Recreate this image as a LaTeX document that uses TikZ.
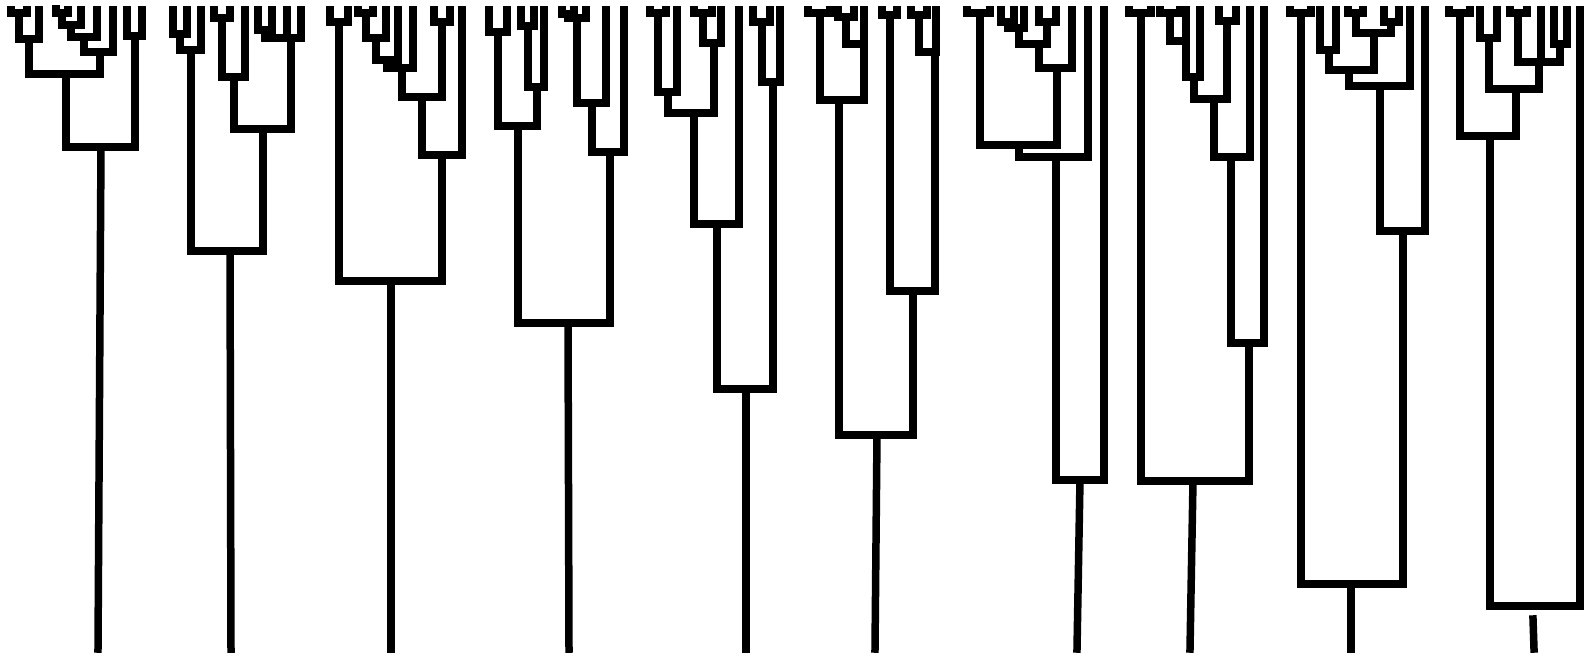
\documentclass[tikz,border=0pt]{standalone}
\tikzset{br/.style={line width=7.5pt, line cap=rect, line join=miter, black}}
\newcommand\mrg[5]{\draw[br] (#1,#2) |- (#3,#5) -- (#3,#4);}
\newcommand\lf[2]{\draw[br] (#1,10) -- (#1,#2);}
\begin{document}
\begin{tikzpicture}[x=1pt,y=-1pt]
\useasboundingbox (0,0) rectangle (1585,656);
% D1
\mrg{11}{10}{27}{10}{13}
\mrg{19}{13}{39}{10}{39}
\mrg{56}{9}{68}{10}{13}
\mrg{62}{13}{81}{10}{25}
\mrg{71}{25}{97}{10}{37}
\mrg{84}{37}{113}{10}{52}
\mrg{29}{39}{100}{52}{74}
\mrg{127}{10}{142}{10}{36}
\mrg{66}{74}{135}{36}{147}
\draw[br] (101,147) -- (98,649);
% D2
\mrg{173}{10}{187}{10}{34}
\mrg{180}{34}{201}{10}{50}
\mrg{214}{10}{230}{10}{18}
\mrg{222}{18}{245}{10}{77}
\mrg{258}{10}{272}{10}{30}
\mrg{265}{30}{301}{10}{38}
\lf{287}{38}
\mrg{234}{77}{291}{38}{129}
\mrg{191}{50}{263}{129}{251}
\draw[br] (230,251) -- (231,649);
% D3
\mrg{330}{10}{348}{10}{22}
\mrg{358}{10}{373}{10}{13}
\mrg{366}{13}{386}{10}{38}
\mrg{376}{38}{398}{10}{60}
\mrg{387}{60}{413}{10}{68}
\mrg{434}{10}{450}{10}{22}
\mrg{402}{68}{442}{22}{97}
\mrg{422}{97}{462}{10}{155}
\mrg{339}{22}{442}{155}{281}
\draw[br] (391,281) -- (391,649);
% D4
\mrg{489}{10}{507}{10}{32}
\mrg{521}{10}{534}{10}{26}
\mrg{528}{26}{544}{10}{87}
\mrg{498}{32}{537}{87}{126}
\mrg{562}{10}{574}{10}{14}
\mrg{568}{14}{586}{10}{18}
\mrg{577}{18}{606}{10}{103}
\mrg{592}{103}{624}{10}{152}
\mrg{518}{126}{610}{152}{323}
\draw[br] (568,323) -- (569,649);
% D5
\mrg{650}{10}{666}{10}{13}
\mrg{658}{13}{677}{10}{92}
\mrg{694}{10}{712}{10}{13}
\mrg{703}{13}{721}{10}{43}
\mrg{668}{92}{714}{43}{113}
\mrg{753}{10}{770}{10}{22}
\mrg{762}{22}{780}{10}{82}
\mrg{694}{113}{739}{10}{224}
\mrg{717}{224}{773}{82}{389}
\draw[br] (746,389) -- (746,649);
% D6
\mrg{808}{10}{830}{10}{13}
\mrg{838}{10}{854}{10}{17}
\mrg{846}{17}{864}{10}{44}
\mrg{820}{13}{864}{44}{100}
\mrg{882}{10}{897}{10}{15}
\mrg{911}{10}{927}{10}{15}
\mrg{919}{15}{936}{10}{52}
\mrg{890}{15}{935}{52}{291}
\mrg{839}{100}{913}{291}{435}
\draw[br] (877,435) -- (875,649);
% D7
\mrg{967}{10}{990}{10}{13}
\mrg{1001}{10}{1014}{10}{22}
\mrg{1008}{22}{1024}{10}{28}
\mrg{1039}{10}{1056}{10}{22}
\mrg{1019}{28}{1047}{22}{44}
\mrg{1039}{44}{1072}{10}{68}
\mrg{980}{13}{1057}{68}{145}
\mrg{1019}{145}{1088}{10}{157}
\mrg{1056}{157}{1104}{10}{480}
\draw[br] (1080,480) -- (1077,649);
% D8
\mrg{1129}{10}{1151}{10}{13}
\mrg{1160}{10}{1180}{10}{13}
\mrg{1170}{13}{1186}{10}{41}
\mrg{1186}{41}{1200}{10}{77}
\mrg{1219}{10}{1236}{10}{21}
\mrg{1194}{77}{1227}{21}{99}
\mrg{1214}{99}{1250}{10}{157}
\mrg{1231}{157}{1264}{10}{343}
\mrg{1141}{13}{1249}{343}{481}
\draw[br] (1193,481) -- (1190,649);
% D9
\mrg{1290}{10}{1311}{10}{13}
\mrg{1320}{10}{1336}{10}{50}
\mrg{1348}{10}{1363}{10}{13}
\mrg{1384}{10}{1399}{10}{22}
\mrg{1356}{13}{1391}{22}{33}
\mrg{1329}{50}{1374}{33}{70}
\mrg{1349}{70}{1410}{10}{86}
\mrg{1380}{86}{1425}{10}{231}
\mrg{1301}{13}{1403}{231}{584}
\draw[br] (1351,584) -- (1351,649);
% D10
\mrg{1449}{10}{1470}{10}{13}
\mrg{1480}{10}{1497}{10}{38}
\mrg{1510}{10}{1527}{10}{13}
\mrg{1554}{10}{1567}{10}{44}
\mrg{1518}{13}{1560}{44}{62}
\lf{1541}{62}
\mrg{1489}{38}{1539}{62}{89}
\mrg{1460}{13}{1516}{89}{136}
\mrg{1490}{136}{1580}{10}{606}
\draw[br] (1533,619) -- (1534,649);
\end{tikzpicture}
\end{document}
